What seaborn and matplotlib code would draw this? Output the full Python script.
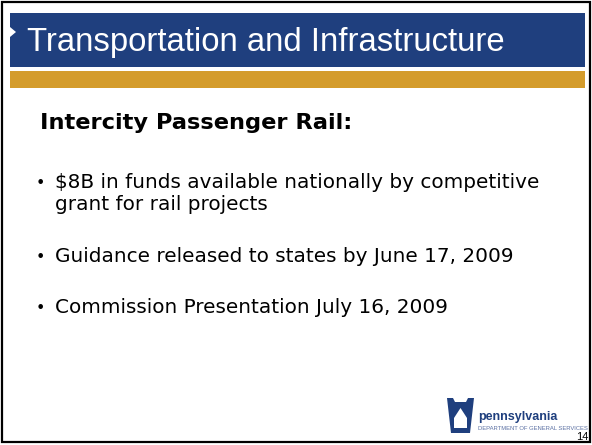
import matplotlib
matplotlib.use('Agg')
import matplotlib.pyplot as plt
from matplotlib.patches import Rectangle, Polygon
import seaborn as sns

# slide content
title = 'Transportation and Infrastructure'
heading = 'Intercity Passenger Rail:'
bullets = ['$8B in funds available nationally by competitive',
           'grant for rail projects',
           'Guidance released to states by June 17, 2009',
           'Commission Presentation July 16, 2009']
bullet_base = [188, 210, 262, 313]
has_dot = [True, False, True, True]
page_no = '14'
logo_name = 'pennsylvania'
logo_sub = 'DEPARTMENT OF GENERAL SERVICES'

blue = '#1f3f7e'
gold = '#d49c2c'

sns.set_style('white')
plt.rcParams['font.family'] = ['DejaVu Sans']

fig = plt.figure(figsize=(5.92, 4.45), dpi=100)
ax = fig.add_axes([0, 0, 1, 1])
ax.set_xlim(0, 592)
ax.set_ylim(445, 0)
ax.axis('off')

# frame
ax.add_patch(Rectangle((1.5, 1.5), 588.5, 440.5, fill=False, ec='black', lw=1.6))

# header bands
ax.add_patch(Rectangle((10, 13), 575, 54, color=blue, lw=0))
ax.add_patch(Polygon([(10, 27), (16, 32), (10, 37)], color='white', lw=0))
ax.add_patch(Rectangle((10, 71), 575, 17, color=gold, lw=0))

ax.text(27, 42, title, color='white', fontsize=23.7, family='Liberation Sans',
        va='center', ha='left')

ax.text(40, 123, heading, color='black', fontsize=16.2, fontweight='bold',
        va='center', ha='left')

for txt, y, dot in zip(bullets, bullet_base, has_dot):
    if dot:
        ax.text(36, y, '\u2022', color='black', fontsize=11.5, va='baseline', ha='left')
    ax.text(55, y, txt, color='black', fontsize=14.4, va='baseline', ha='left')

# logo
ax.add_patch(Polygon([(447, 398), (453, 398), (455, 402), (466, 402), (468, 398),
                      (474, 398), (470, 433), (451, 433)], color=blue, lw=0))
ax.add_patch(Polygon([(454, 418), (460.5, 408), (467, 418), (467, 428), (454, 428)],
                     color='white', lw=0))
ax.text(478, 417, logo_name, color=blue, fontsize=9, fontweight='bold',
        family='Liberation Sans', va='center', ha='left')
ax.text(478, 428, logo_sub, color='#5b70a3', fontsize=4.2, family='Liberation Sans',
        va='center', ha='left')
ax.text(588, 437, page_no, color='black', fontsize=8, family='Liberation Sans',
        va='center', ha='right')

fig.savefig('out.png', dpi=100)
